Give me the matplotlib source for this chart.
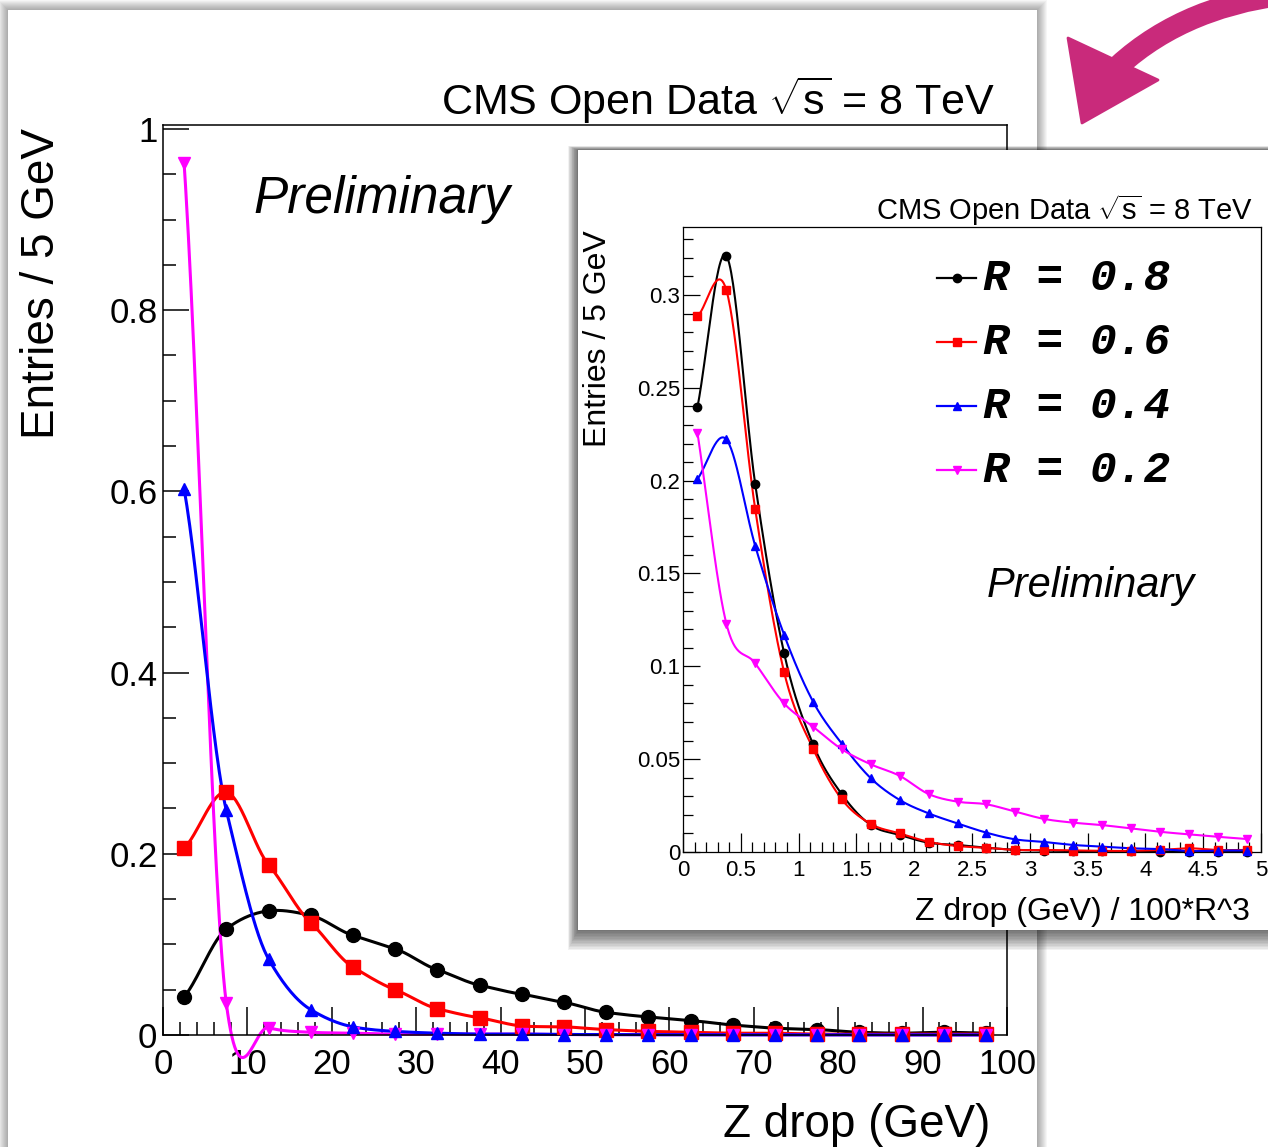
import numpy as np
import matplotlib
matplotlib.use("Agg")
import matplotlib.pyplot as plt
import matplotlib.transforms as mtransforms
from matplotlib.patches import Rectangle, Polygon, PathPatch
from matplotlib.path import Path
from matplotlib.lines import Line2D
from matplotlib.ticker import MultipleLocator, FuncFormatter

plt.rcParams['font.family'] = ['Liberation Sans', 'DejaVu Sans']
plt.rcParams['mathtext.fontset'] = 'custom'
plt.rcParams['mathtext.rm'] = 'Liberation Sans'
plt.rcParams['mathtext.it'] = 'Liberation Sans:italic'

# Z drop, 5 GeV bins (bin centres)
zdrop_bins = np.arange(2.5, 100, 5.0)
r08 = [0.042, 0.117, 0.137, 0.132, 0.110, 0.095, 0.072, 0.055, 0.045, 0.036,
       0.025, 0.020, 0.016, 0.011, 0.0075, 0.006, 0.003, 0.002, 0.003, 0.002]
r06 = [0.206, 0.268, 0.188, 0.124, 0.075, 0.050, 0.029, 0.019, 0.010, 0.009,
       0.006, 0.004, 0.003, 0.002, 0.002, 0.001, 0.001, 0.001, 0.001, 0.001]
r04 = [0.603, 0.248, 0.084, 0.028, 0.009, 0.004, 0.002, 0.001, 0.001, 0.0005,
       0.0005, 0.0003, 0.0003, 0.0002, 0.0002, 0.0002, 0.0001, 0.0001, 0.0001, 0.0001]
r02 = [0.962, 0.035, 0.008, 0.003, 0.002, 0.001, 0.001, 0.001, 0.001, 0.0005,
       0.0005, 0.0004, 0.0003, 0.0003, 0.0002, 0.0002, 0.0002, 0.0001, 0.0001, 0.0001]

# Z drop scaled by 100*R^3, bins of 0.25
scaled_bins = np.arange(0.125, 5.0, 0.25)
r08_s = [0.2395, 0.3211, 0.198, 0.107, 0.058, 0.031, 0.0145, 0.0092, 0.005, 0.0038,
         0.0023, 0.0012, 0.0008, 0.0005, 0.0004, 0.0003, 0.0002, 0.0002, 0.0001, 0.0001]
r06_s = [0.2885, 0.3026, 0.1845, 0.0968, 0.0556, 0.0283, 0.0151, 0.010, 0.0055, 0.0032,
         0.0023, 0.0011, 0.0011, 0.0008, 0.0006, 0.0006, 0.0011, 0.002, 0.0011, 0.0011]
r04_s = [0.2008, 0.2222, 0.1648, 0.1169, 0.081, 0.0582, 0.0397, 0.028, 0.0208, 0.0154,
         0.0104, 0.0068, 0.0054, 0.0038, 0.0029, 0.002, 0.0016, 0.0005, 0.0008, 0.0008]
r02_s = [0.2258, 0.123, 0.1016, 0.080, 0.0675, 0.0553, 0.0472, 0.041, 0.0312, 0.0271,
         0.0257, 0.0217, 0.0178, 0.0158, 0.0145, 0.0127, 0.0109, 0.0095, 0.0082, 0.007]

legend_labels = ['R = 0.8', 'R = 0.6', 'R = 0.4', 'R = 0.2']
colors = ['black', '#ff0000', '#0000ff', '#ff00ff']
markers = ['o', 's', '^', 'v']

W, H = 1268, 1147
fig = plt.figure(figsize=(W / 100, H / 100), dpi=100)
fig.patch.set_facecolor('white')
# pixel coordinates measured from the top-left corner
pix = mtransforms.Affine2D().scale(1.0 / W, -1.0 / H).translate(0, 1) + fig.transFigure


def box(x0, y0, x1, y1):
    return [x0 / W, 1 - y1 / H, (x1 - x0) / W, (y1 - y0) / H]


def smooth(x, y, n=30, tension=1.0):
    # Hermite curve through the points (Catmull-Rom tangents, optionally damped)
    x = np.asarray(x, float)
    y = np.asarray(y, float)
    m = np.gradient(y) * tension
    t = np.linspace(0, 1, n, endpoint=False)
    h00 = 2 * t**3 - 3 * t**2 + 1
    h10 = t**3 - 2 * t**2 + t
    h01 = -2 * t**3 + 3 * t**2
    h11 = t**3 - t**2
    xs, ys = [], []
    for i in range(len(x) - 1):
        xs.append(x[i] + t * (x[i + 1] - x[i]))
        ys.append(h00 * y[i] + h10 * m[i] + h01 * y[i + 1] + h11 * m[i + 1])
    xs.append([x[-1]])
    ys.append([y[-1]])
    return np.concatenate(xs), np.concatenate(ys)


def page(x0, y0, x1, y1, grow, steps, alpha, z):
    # grow = (left, top, right, bottom) spread of the soft shadow, in px
    gl, gt, gr, gb = grow
    for k in range(steps, 0, -1):
        f = k / steps
        fig.add_artist(Rectangle((x0 - gl * f, y0 - gt * f),
                                 x1 - x0 + (gl + gr) * f, y1 - y0 + (gt + gb) * f,
                                 transform=pix, facecolor='black', alpha=alpha, lw=0, zorder=z))
    fig.add_artist(Rectangle((x0, y0), x1 - x0, y1 - y0, transform=pix,
                             facecolor='white', lw=0, zorder=z))


fmt = FuncFormatter(lambda v, p: f'{round(v, 4):g}')

# ---- main canvas ----
page(8, 10, 1037, 1170, (10, 10, 10, 10), 10, 0.035, -2)

ax = fig.add_axes(box(163, 125, 1007, 1035), zorder=0)
ax.set_facecolor('none')
main_order = [(r08, 0, 10), (r06, 1, 10), (r02, 3, 9), (r04, 2, 9)]
for vals, i, ms in main_order:
    xs, ys = smooth(zdrop_bins, vals, tension=0.75)
    ax.plot(xs, ys, color=colors[i], lw=2.2, clip_on=False, zorder=2)
    ax.plot(zdrop_bins, vals, ls='none', marker=markers[i], color=colors[i], ms=ms,
            clip_on=False, zorder=3)
ax.set_xlim(0, 100)
ax.set_ylim(0, 1.0044)
ax.xaxis.set_major_locator(MultipleLocator(10))
ax.xaxis.set_minor_locator(MultipleLocator(2))
ax.yaxis.set_major_locator(MultipleLocator(0.2))
ax.yaxis.set_minor_locator(MultipleLocator(0.05))
ax.xaxis.set_major_formatter(fmt)
ax.yaxis.set_major_formatter(fmt)
ax.tick_params(which='both', direction='in', top=False, right=False, labelsize=25, width=1.1)
ax.tick_params(axis='x', which='major', length=20, pad=9)
ax.tick_params(axis='x', which='minor', length=9.5)
ax.tick_params(axis='y', which='major', length=19, pad=4)
ax.tick_params(axis='y', which='minor', length=9.5)
for s in ax.spines.values():
    s.set_linewidth(1.1)

fig.text(995, 115, r'CMS Open Data $\sqrt{\mathrm{s}}$ = 8 TeV', transform=pix,
         ha='right', va='baseline', fontsize=31, zorder=0.5)
fig.text(253, 213, 'Preliminary', transform=pix, ha='left', va='baseline',
         fontsize=37, style='italic', zorder=0.5)
fig.text(42, 128, 'Entries / 5 GeV', transform=pix, rotation=90, ha='center', va='top',
         fontsize=33, zorder=0.5)
fig.text(990, 1137, 'Z drop (GeV)', transform=pix, ha='right', va='baseline',
         fontsize=33, zorder=0.5)

# ---- inset canvas ----
page(578, 150, 1290, 930, (10, 4, 10, 20), 14, 0.05, 1)

ax2 = fig.add_axes(box(683, 227, 1261, 852), zorder=2)
ax2.set_facecolor('none')
inset_series = [(r08_s, 0), (r06_s, 1), (r04_s, 2), (r02_s, 3)]
for vals, i in inset_series:
    xs, ys = smooth(scaled_bins, vals)
    ax2.plot(xs, ys, color=colors[i], lw=1.5, zorder=2)
    ax2.plot(scaled_bins, vals, ls='none', marker=markers[i], color=colors[i], ms=6,
             zorder=3, clip_on=False)
ax2.set_xlim(0, 5)
ax2.set_ylim(0, 0.3366)
ax2.xaxis.set_major_locator(MultipleLocator(0.5))
ax2.xaxis.set_minor_locator(MultipleLocator(0.1))
ax2.yaxis.set_major_locator(MultipleLocator(0.05))
ax2.yaxis.set_minor_locator(MultipleLocator(0.01))
ax2.xaxis.set_major_formatter(fmt)
ax2.yaxis.set_major_formatter(fmt)
ax2.tick_params(which='both', direction='in', top=False, right=False, labelsize=16, width=0.9)
ax2.tick_params(axis='x', which='major', length=14, pad=6)
ax2.tick_params(axis='x', which='minor', length=7)
ax2.tick_params(axis='y', which='major', length=12, pad=2)
ax2.tick_params(axis='y', which='minor', length=7)
for s in ax2.spines.values():
    s.set_linewidth(0.9)

fig.text(1253, 220, r'CMS Open Data $\sqrt{\mathrm{s}}$ = 8 TeV', transform=pix,
         ha='right', va='baseline', fontsize=21, zorder=2.5)
fig.text(987, 597, 'Preliminary', transform=pix, ha='left', va='baseline',
         fontsize=30, style='italic', zorder=2.5)
fig.text(598, 230, 'Entries / 5 GeV', transform=pix, rotation=90, ha='center', va='top',
         fontsize=23, zorder=2.5)
fig.text(1250, 920, 'Z drop (GeV) / 100*R^3', transform=pix, ha='right', va='baseline',
         fontsize=23, zorder=2.5)

legend_rows = [278, 342, 406, 470]
for y, lab, c, m in zip(legend_rows, legend_labels, colors, markers):
    fig.add_artist(Line2D([937, 976], [y, y], transform=pix, color=c, lw=1.6, zorder=3))
    fig.add_artist(Line2D([957], [y], transform=pix, marker=m, ms=6, color=c, zorder=3))
    fig.text(983, y, lab, transform=pix, ha='left', va='center', fontsize=32,
             family='Liberation Mono', weight='bold', style='italic', zorder=3)

# ---- hand-drawn pointer ----
pink = '#c92a7b'
shaft = Path([(1285, -6), (1176, 8), (1110, 74)], [Path.MOVETO, Path.CURVE3, Path.CURVE3])
fig.add_artist(PathPatch(shaft, transform=pix, facecolor='none', edgecolor=pink, lw=16,
                         capstyle='round', zorder=5))
fig.add_artist(Polygon([(1068, 38), (1082, 123), (1158, 80)], closed=True, transform=pix,
                       facecolor=pink, edgecolor=pink, lw=2, joinstyle='round', zorder=5))

fig.savefig('out.png', dpi=100)
